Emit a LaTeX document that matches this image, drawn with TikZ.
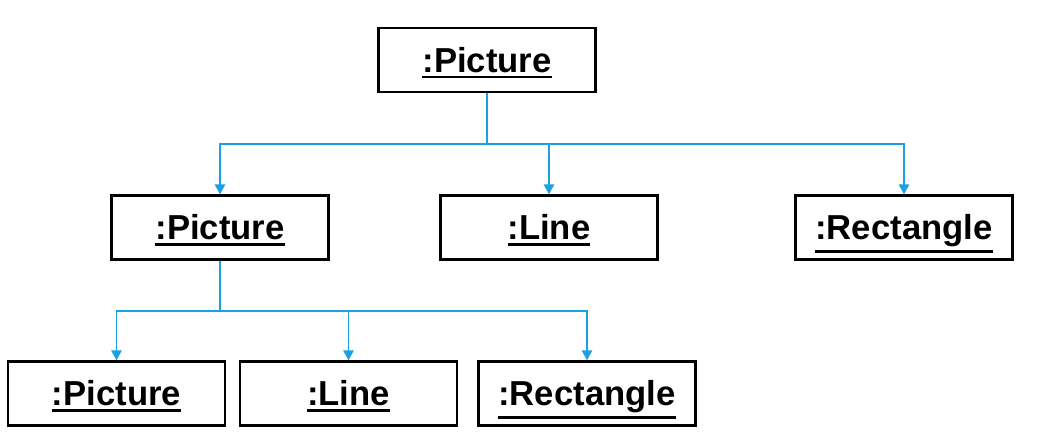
\documentclass[tikz,border=0pt]{standalone}
\usepackage{fontspec}
\setmainfont{Liberation Sans}
\usetikzlibrary{arrows.meta}
\definecolor{conn}{HTML}{1BA1E2}
\newcommand\myul[1]{\leavevmode\vtop{\hbox{#1}\kern2.2pt\hrule height 1.8pt}}
\tikzset{
  obj/.style={draw=black, line width=1.8pt, minimum width=217*0.75pt, minimum height=64*0.75pt,
    inner sep=0pt, text height=18.5pt, text depth=0pt,
    font=\fontsize{26pt}{30pt}\selectfont\bfseries},
  conline/.style={draw=conn, line width=1.3pt},
  arr/.style={conline, -{Triangle[width=7.8pt,length=7.5pt]}}
}
\begin{document}
\begin{tikzpicture}[x=0.75pt,y=-0.75pt]
\useasboundingbox (0,0) rectangle (1060,444);
\node[obj] (top) at (487,60) {\myul{:Picture}};
\node[obj] (mp) at (220,227.5) {\myul{:Picture}};
\node[obj] (ml) at (549,227.5) {\myul{:Line}};
\node[obj] (mr) at (904,227.5) {\myul{:Rectangle}};
\node[obj] (bp) at (116.5,393.5) {\myul{:Picture}};
\node[obj] (bl) at (348.5,393.5) {\myul{:Line}};
\node[obj] (br) at (587,393.5) {\myul{:Rectangle}};
\coordinate (j1) at (487,144);
\coordinate (j2) at (220,311);
\draw[conline] (top.south) -- (j1);
\draw[arr] (j1) -| (mp.north);
\draw[arr] (j1) -| (ml.north);
\draw[arr] (j1) -| (mr.north);
\draw[conline] (mp.south) -- (j2);
\draw[arr] (j2) -| (bp.north);
\draw[arr] (j2) -| (bl.north);
\draw[arr] (j2) -| (br.north);
\end{tikzpicture}
\end{document}
